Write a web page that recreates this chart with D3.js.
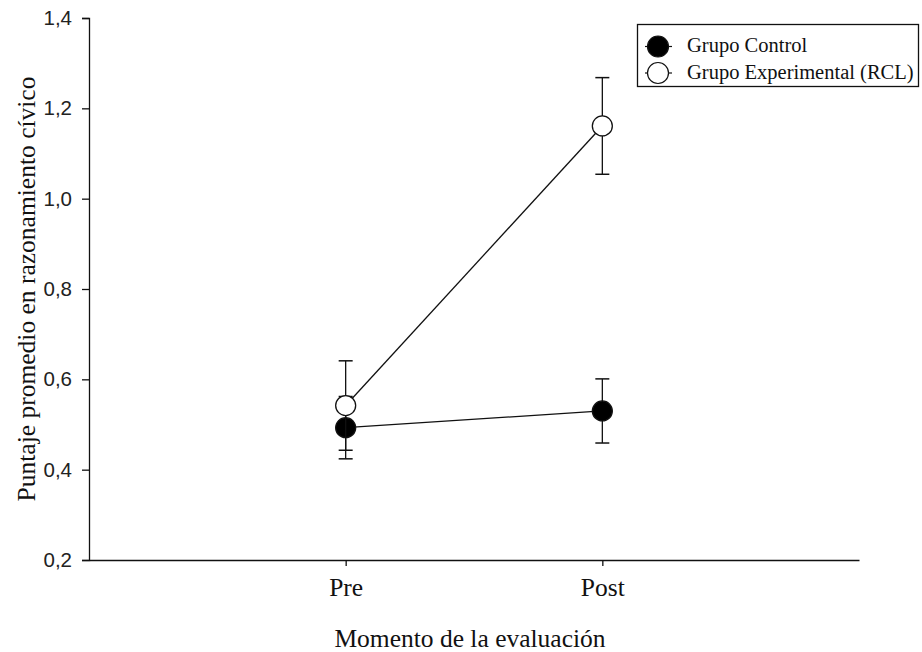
<!DOCTYPE html>
<html lang="es">
<head>
<meta charset="utf-8">
<title>Puntaje promedio en razonamiento cívico</title>
<script src="https://d3js.org/d3.v7.min.js"></script>
<style>
  body { margin: 0; background: #fff; }
  .axis path, .axis line { stroke: #111; stroke-width: 1.3; }
  .ytick text { font-family: "Liberation Sans", Arial, sans-serif; font-size: 20.5px; fill: #222; }
  .xtick text { font-family: "Liberation Serif", "Times New Roman", serif; font-size: 25.5px; fill: #111; }
  .title { font-family: "Liberation Serif", "Times New Roman", serif; font-size: 25.5px; fill: #111; }
  .legend text { font-family: "Liberation Serif", "Times New Roman", serif; font-size: 20.5px; fill: #111; }
</style>
</head>
<body>
<div id="chart"></div>
<script>
// data
var moments = ["Pre", "Post"];
var groups = ["Grupo Control", "Grupo Experimental (RCL)"];
var controlMean = [0.493, 0.530];
var controlErr = [0.069, 0.071];
var expMean = [0.542, 1.161];
var expErr = [0.099, 0.107];
var yTicks = [0.2, 0.4, 0.6, 0.8, 1.0, 1.2, 1.4];

var W = 922, H = 652;
var svg = d3.select("#chart").append("svg")
  .attr("width", W).attr("height", H);

// scales
var x = d3.scalePoint()
  .domain(["", "Pre", "Post", " "])
  .range([89, 859]);
var y = d3.scaleLinear()
  .domain([0.2, 1.4])
  .range([560, 18]);

// axes
svg.append("g")
  .attr("class", "axis ytick")
  .attr("transform", "translate(89,0)")
  .call(d3.axisLeft(y).tickValues(yTicks).tickSize(7).tickPadding(10)
    .tickFormat(function (d) { return d3.format(".1f")(d).replace(".", ","); }));

svg.append("g")
  .attr("class", "axis xtick")
  .attr("transform", "translate(0,560)")
  .call(d3.axisBottom(x).tickValues(moments).tickSize(6).tickPadding(12).tickSizeOuter(0));

// axis titles
svg.append("text")
  .attr("class", "title")
  .attr("text-anchor", "middle")
  .attr("transform", "translate(35," + ((18 + 560) / 2) + ") rotate(-90)")
  .text("Puntaje promedio en razonamiento cívico");

svg.append("text")
  .attr("class", "title")
  .attr("text-anchor", "middle")
  .attr("x", (89 + 859) / 2 - 4)
  .attr("y", 647)
  .text("Momento de la evaluación");

// series
var series = [
  { name: groups[0], mean: controlMean, err: controlErr, fill: "#000" },
  { name: groups[1], mean: expMean, err: expErr, fill: "#fff" }
];

var line = d3.line()
  .x(function (d, i) { return x(moments[i]); })
  .y(function (d) { return y(d); });

series.forEach(function (s) {
  var g = svg.append("g");
  g.append("path")
    .attr("d", line(s.mean))
    .attr("fill", "none")
    .attr("stroke", "#111")
    .attr("stroke-width", 1.3);

  s.mean.forEach(function (m, i) {
    var cx = x(moments[i]);
    var lo = m - s.err[i], hi = m + s.err[i];
    g.append("line")
      .attr("x1", cx).attr("x2", cx)
      .attr("y1", y(lo)).attr("y2", y(hi))
      .attr("stroke", "#111").attr("stroke-width", 1.3);
    [lo, hi].forEach(function (v) {
      g.append("line")
        .attr("x1", cx - 7).attr("x2", cx + 7)
        .attr("y1", y(v)).attr("y2", y(v))
        .attr("stroke", "#111").attr("stroke-width", 1.5);
    });
  });

  g.selectAll("circle")
    .data(s.mean)
    .enter().append("circle")
    .attr("cx", function (d, i) { return x(moments[i]); })
    .attr("cy", function (d) { return y(d); })
    .attr("r", 10)
    .attr("fill", s.fill)
    .attr("stroke", "#111")
    .attr("stroke-width", 1.3);
});

// legend
var legend = svg.append("g").attr("class", "legend");
legend.append("rect")
  .attr("x", 637.5).attr("y", 24.5)
  .attr("width", 281).attr("height", 62)
  .attr("fill", "#fff")
  .attr("stroke", "#111").attr("stroke-width", 1.3);

series.forEach(function (s, i) {
  var cy = 46.5 + i * 26.5;
  legend.append("line")
    .attr("x1", 645).attr("x2", 672)
    .attr("y1", cy).attr("y2", cy)
    .attr("stroke", "#111").attr("stroke-width", 1.2);
  legend.append("circle")
    .attr("cx", 658).attr("cy", cy).attr("r", 10.5)
    .attr("fill", s.fill)
    .attr("stroke", "#111").attr("stroke-width", 1.2);
  legend.append("text")
    .attr("x", 687).attr("y", cy + 5.5)
    .text(s.name);
});
</script>
</body>
</html>
